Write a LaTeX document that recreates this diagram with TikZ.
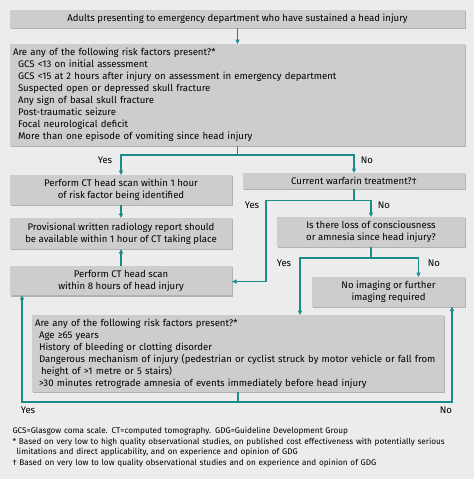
\documentclass[tikz,border=0pt]{standalone}
\usepackage{fontspec}
\setmainfont{Fira Sans}
\usetikzlibrary{arrows.meta, shadows, calc}
\definecolor{bggray}{HTML}{ECECEC}
\definecolor{boxgray}{HTML}{CDCDCD}
\definecolor{shadegray}{HTML}{B2B2B2}
\definecolor{flowteal}{HTML}{1B8C89}

\begin{document}
\begin{tikzpicture}[x=1pt, y=-1pt, ->, >={Triangle[length=4.5pt,width=4pt]}, line width=1.1pt]
\tikzstyle{box}=[draw=none, fill=boxgray, anchor=north west, inner sep=4pt, outer sep=0pt,
  drop shadow={shadow xshift=1.3pt, shadow yshift=-1.3pt, fill=shadegray, opacity=1},
  font=\fontsize{9.6}{12}\selectfont, align=center]
\tikzstyle{listbox}=[box, align=left, inner sep=3pt]
\tikzstyle{flow}=[draw=flowteal, color=flowteal]
\tikzstyle{lbl}=[font=\fontsize{9.6}{12}\selectfont, inner sep=0pt]

\useasboundingbox (0,0) rectangle (474,479);
\fill[bggray, -] (0,0) rectangle (474,479);

% boxes, top to bottom
\node[box, minimum width=455pt, minimum height=18pt]     (A) at (10,10)   {Adults presenting to emergency department who have sustained a head injury};
\node[listbox, minimum width=455pt, minimum height=102pt, text width=449pt] (B) at (10,44) {Are any of the following risk factors present?*\\
  \hspace*{5pt}GCS <13 on initial assessment\\
  \hspace*{5pt}GCS <15 at 2 hours after injury on assessment in emergency department\\
  \hspace*{5pt}Suspected open or depressed skull fracture\\
  \hspace*{5pt}Any sign of basal skull fracture\\
  \hspace*{5pt}Post-traumatic seizure\\
  \hspace*{5pt}Focal neurological deficit\\
  \hspace*{5pt}More than one episode of vomiting since head injury};
\node[box, minimum width=222pt, minimum height=27pt]     (C) at (10,175)  {Perform CT head scan within 1 hour\\of risk factor being identified};
\node[box, minimum width=222pt, minimum height=15pt]     (D) at (243,173) {Current warfarin treatment?†};
\node[box, minimum width=222pt, minimum height=31pt]     (E) at (10,218)  {Provisional written radiology report should\\be available within 1 hour of CT taking place};
\node[box, minimum width=188pt, minimum height=30pt]     (F) at (277,217) {Is there loss of consciousness\\or amnesia since head injury?};
\node[box, minimum width=222pt, minimum height=29pt]     (G) at (10,266)  {Perform CT head scan\\within 8 hours of head injury};
\node[box, minimum width=153pt, minimum height=27pt]     (H) at (312,277) {No imaging or further\\imaging required};
\node[listbox, minimum width=412pt, minimum height=77pt, text width=406pt] (I) at (32,315) {Are any of the following risk factors present?*\\
  \hspace*{4pt}Age ≥65 years\\
  \hspace*{4pt}History of bleeding or clotting disorder\\
  \hspace*{4pt}\mbox{Dangerous mechanism of injury (pedestrian or cyclist struck by motor vehicle or fall from}\\
  \hspace*{6pt}height of >1 metre or 5 stairs)\\
  \hspace*{4pt}>30 minutes retrograde amnesia of events immediately before head injury};

% connectors
\draw[flow] (A.south) -- (B.north);
\draw[flow] (B.south) -- ++(0,9) coordinate (b1) -| (C.north);
\draw[flow] (b1) -| (D.north);
\draw[flow] (C.south) -- (E.north);
\draw[flow] (G.north) -- (E.south);
\draw[flow] (D.south) -- ++(0,12) coordinate (d1) -| (F.north);
\draw[flow] (d1) -| ++(-88,81) coordinate (d2) -- (G.east |- d2);
\draw[flow] (F.south) -- ++(0,11) coordinate (f1) -| ([xshift=30pt]H.north);
\draw[flow] (f1) -| ([xshift=62pt]I.north);
\draw[flow] (I.south) -- ++(0,10) coordinate (i1) -| ([xshift=12pt]G.south west);
\draw[flow] (i1) -| ([xshift=-13pt]H.south east);

% branch labels
\node[lbl] (y1) at (105,160) {Yes};
\node[lbl] (n1) at (367,160) {No};
\node[lbl] (y2) at (252,205) {Yes};
\node[lbl] (n2) at (384,205) {No};
\node[lbl] (y3) at (284,263) {Yes};
\node[lbl] (n3) at (434,263) {No};
\node[lbl] (y4) at (28,410)  {Yes};
\node[lbl] (n4) at (446,410) {No};

% footnotes
\node[anchor=north west, inner sep=0pt, text width=462pt, align=left,
  font=\fontsize{8.2}{10.4}\selectfont] (notes) at (12,427) {GCS=Glasgow coma scale. CT=computed tomography. GDG=Guideline Development Group\\
  {*} Based on very low to high quality observational studies, on published cost effectiveness with potentially serious\\
  \hspace*{4pt}limitations and direct applicability, and on experience and opinion of GDG\\
  † Based on very low to low quality observational studies and on experience and opinion of GDG};
\end{tikzpicture}
\end{document}
